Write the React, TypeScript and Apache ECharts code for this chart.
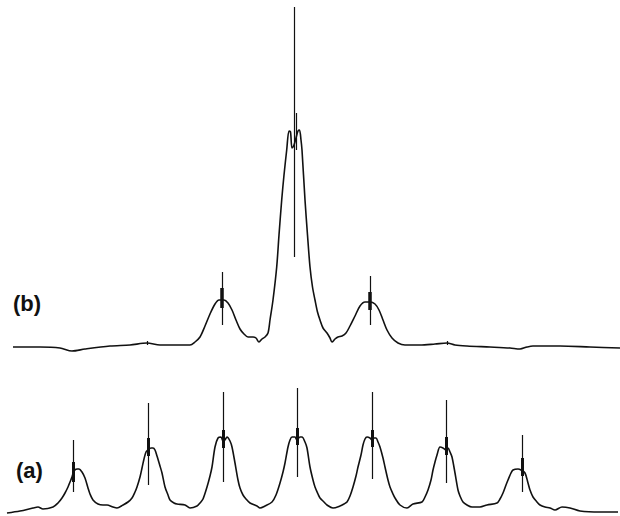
import React, { useEffect, useRef } from "react";
import * as echarts from "echarts";

// Trace (b): [frequency position, intensity above baseline]
const traceB: [number, number][] = [
  [13, 0], [40, 0], [60, -1], [72, -4], [85, -2], [110, 1], [130, 2], [147, 4], [160, 2],
  [180, 2], [190, 2], [195, 5], [200, 10], [205, 21], [210, 33], [215, 43], [219, 47],
  [224, 47], [228, 44], [232, 37], [236, 27], [240, 18], [244, 13], [248, 10], [253, 10],
  [256, 9], [259, 5], [262, 8], [265, 10], [268, 14], [270, 27], [273, 47], [276.7, 80],
  [279, 112], [281.7, 147], [284, 172], [286.7, 197], [289, 216], [290.5, 215], [292, 199],
  [294, 202], [296, 209], [298, 216], [299.5, 217], [301, 207], [302, 197], [305, 147],
  [307.5, 112], [310, 80], [312.5, 60], [315, 47], [317.5, 35], [320, 27], [323, 19],
  [327, 14], [330, 9], [332, 5], [335, 8], [338, 10], [342, 11], [346, 14], [350, 21],
  [355, 31], [360, 41], [365, 45], [370, 45], [375, 43], [379, 37], [383, 27], [387, 17],
  [392, 9], [398, 4], [405, 2], [420, 2], [435, 3], [447, 4], [455, 2], [467, 1], [490, 0],
  [510, -1], [520, -2], [527, 0], [533, 1], [560, 1], [590, 0], [620, -1],
];

// Trace (a)
const traceA: [number, number][] = [
  [7, -1], [20, 1], [33, 4], [38, 5], [43, 3], [53, 5], [58, 9], [62, 14], [65, 19], [68, 25],
  [70, 30], [72, 35], [74, 41], [77, 43], [79, 43], [82, 40], [85, 34], [88, 24], [90, 18],
  [93, 12], [98, 8], [103, 7], [107, 7], [113, 5], [117, 4], [123, 7], [128, 10], [132, 14],
  [135, 20], [137, 25], [140, 35], [142, 44], [144, 53], [146, 60], [148, 62], [151, 64],
  [153, 64], [155, 62], [157, 56], [160, 46], [162, 39], [165, 25], [168, 17], [170, 12],
  [174, 9], [177, 8], [185, 7], [190, 4], [197, 6], [200, 9], [203, 13], [207, 25], [210, 36],
  [212, 45], [215, 65], [218, 74], [221, 75], [223, 71], [225, 72], [227, 75], [230, 71],
  [232, 65], [235, 49], [238, 32], [240, 24], [243, 17], [246, 13], [250, 9], [257, 6],
  [260, 4], [265, 6], [272, 10], [276, 17], [280, 29], [283, 40], [285, 49], [288, 65],
  [290, 72], [292, 75], [295, 75], [297, 72], [300, 75], [302, 75], [305, 70], [307, 64],
  [310, 45], [313, 32], [315, 25], [318, 18], [320, 14], [324, 10], [327, 7], [333, 4],
  [340, 6], [344, 8], [347, 10], [350, 16], [353, 25], [356, 36], [358, 45], [361, 57],
  [363, 67], [365, 73], [367, 75], [370, 74], [372, 72], [374, 74], [376, 74], [378, 70],
  [380, 65], [383, 54], [385, 45], [388, 32], [390, 25], [393, 18], [395, 14], [400, 7],
  [407, 4], [413, 8], [422, 10], [425, 15], [428, 22], [431, 32], [433, 42], [435, 50],
  [437, 57], [440, 65], [443, 64], [446, 62], [448, 64], [450, 60], [452, 55], [455, 39],
  [458, 22], [460, 16], [463, 10], [467, 7], [472, 5], [480, 5], [487, 7], [497, 9],
  [500, 13], [503, 19], [506, 27], [508, 32], [511, 39], [513, 42], [518, 43], [521, 42],
  [525, 39], [528, 29], [530, 22], [533, 15], [537, 10], [540, 7], [545, 5], [550, 4],
  [555, 2], [562, 5], [570, 4], [580, 1], [600, 0], [618, 0],
];

// Sharp lines: [position, top intensity, bottom intensity]
const spikesB: [number, number, number][] = [
  [222, 75, 22], [370, 71, 22], [294, 340, 90], [296.5, 234, 197], [147, 6, 2], [447, 6, 2],
];
const spikeCoresB: [number, number, number][] = [
  [222, 59, 39], [370, 55, 37],
];
const spikesA: [number, number, number][] = [
  [73, 72, 20], [148, 109, 27], [223, 120, 30], [297, 124, 35], [372, 120, 33], [446, 112, 29], [522, 77, 20],
];
const spikeCoresA: [number, number, number][] = [
  [73, 50, 30], [148, 74, 56], [223, 82, 64], [297, 84, 67], [372, 82, 65], [446, 75, 57], [522, 54, 36],
];

const labels = ["(b)", "(a)"];

function spikeData(s: [number, number, number][]) {
  return s.map(([x, t, b]) => ({ coords: [[x, t], [x, b]] }));
}

export default function App() {
  const ref = useRef<HTMLDivElement>(null);
  useEffect(() => {
    if (!ref.current) return;
    const chart = echarts.init(ref.current, undefined, { renderer: "svg" });
    const xAxisBase = { type: "value", min: 0, max: 620, show: false };
    chart.setOption({
      animation: false,
      backgroundColor: "#ffffff",
      grid: [
        { left: 0, right: 0, top: 0, height: 347 },
        { left: 0, right: 0, top: 300, height: 212 },
      ],
      xAxis: [
        { ...xAxisBase, gridIndex: 0 },
        { ...xAxisBase, gridIndex: 1 },
      ],
      yAxis: [
        { type: "value", min: 0, max: 347, show: false, gridIndex: 0 },
        { type: "value", min: 0, max: 212, show: false, gridIndex: 1 },
      ],
      graphic: [
        {
          type: "text", left: 13, top: 292,
          style: { text: labels[0], font: "bold 22px 'Liberation Sans', Arial, sans-serif", fill: "#111" },
        },
        {
          type: "text", left: 16, top: 459,
          style: { text: labels[1], font: "bold 22px 'Liberation Sans', Arial, sans-serif", fill: "#111" },
        },
      ],
      series: [
        {
          type: "line", xAxisIndex: 0, yAxisIndex: 0, data: traceB, showSymbol: false,
          smooth: 0.3, clip: false, lineStyle: { color: "#111", width: 1.6 },
        },
        {
          type: "line", xAxisIndex: 1, yAxisIndex: 1, data: traceA, showSymbol: false,
          smooth: 0.3, clip: false, lineStyle: { color: "#111", width: 1.6 },
        },
        {
          type: "lines", coordinateSystem: "cartesian2d", xAxisIndex: 0, yAxisIndex: 0,
          data: spikeData(spikesB), lineStyle: { color: "#111", width: 1.2, opacity: 1 },
        },
        {
          type: "lines", coordinateSystem: "cartesian2d", xAxisIndex: 0, yAxisIndex: 0,
          data: spikeData(spikeCoresB), lineStyle: { color: "#111", width: 3.5, opacity: 1 },
        },
        {
          type: "lines", coordinateSystem: "cartesian2d", xAxisIndex: 1, yAxisIndex: 1,
          data: spikeData(spikesA), lineStyle: { color: "#111", width: 1.2, opacity: 1 },
        },
        {
          type: "lines", coordinateSystem: "cartesian2d", xAxisIndex: 1, yAxisIndex: 1,
          data: spikeData(spikeCoresA), lineStyle: { color: "#111", width: 3, opacity: 1 },
        },
      ],
    });
    return () => chart.dispose();
  }, []);
  return (
    <div
      ref={ref}
      style={{ position: "absolute", left: 0, top: 0, width: 620, height: 516 }}
    />
  );
}
